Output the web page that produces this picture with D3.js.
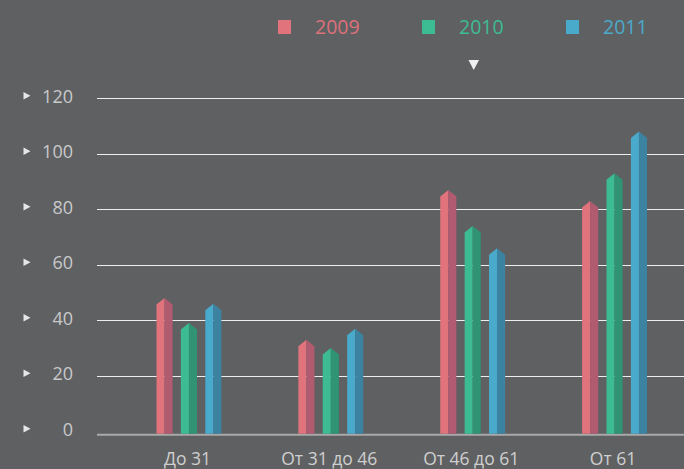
<!DOCTYPE html>
<html>
<head>
<meta charset="utf-8">
<script src="https://cdn.jsdelivr.net/npm/d3@7"></script>
<style>
  html, body { margin: 0; padding: 0; background: #5f6062; }
  svg { display: block; }
</style>
</head>
<body>
<svg id="chart" width="684" height="469"></svg>
<script>
// Age groups along the x axis
const categories = ["До 31", "От 31 до 46", "От 46 до 61", "От 61"];
// Years shown as series
const years = ["2009", "2010", "2011"];
const values2009 = [48, 33, 87, 83];
const values2010 = [39, 30, 74, 93];
const values2011 = [46, 37, 66, 108];
const yTicks = [0, 20, 40, 60, 80, 100, 120];

const seriesValues = [values2009, values2010, values2011];
const light = ["#e0737b", "#3dbc94", "#4aaacb"];
const dark  = ["#b05b70", "#2f9374", "#3c83a2"];
const legendText = ["#dc717a", "#3dbc94", "#4aaacb"];

const svg = d3.select("#chart");
const W = 684, H = 469;
const left = 97;

const y = d3.scaleLinear().domain([0, 120]).range([431.3, 98.3]);
const x = d3.scaleBand().domain(categories).range([118, 685.5]).paddingInner(0).paddingOuter(0);
const xs = d3.scaleBand().domain(years).range([-36.6, 36.6]).paddingInner(0.34).paddingOuter(0.17);

const font = "'Open Sans', 'Noto Sans', sans-serif";

// Horizontal grid lines
svg.append("g").selectAll("line")
  .data(yTicks.filter(d => d > 0))
  .join("line")
  .attr("x1", left).attr("x2", W)
  .attr("y1", d => Math.round(y(d)) + 0.5).attr("y2", d => Math.round(y(d)) + 0.5)
  .attr("stroke", "#eeeeee").attr("stroke-width", 1);

// Baseline under the bars
const baseY = y(0) + 3.5;
svg.append("line")
  .attr("x1", left).attr("x2", W)
  .attr("y1", baseY).attr("y2", baseY)
  .attr("stroke", "#a9a9aa").attr("stroke-width", 2);

// Y tick labels with small pointer marks
const yl = svg.append("g");
yl.selectAll("text")
  .data(yTicks)
  .join("text")
  .attr("x", 73).attr("y", d => y(d) - 2.5)
  .attr("text-anchor", "end")
  .attr("dominant-baseline", "central")
  .attr("font-family", font).attr("font-size", 18)
  .attr("fill", "#c9c9ca")
  .text(d => d);
yl.selectAll("path")
  .data(yTicks)
  .join("path")
  .attr("d", d => { const c = y(d) - 2.5; return `M23.5,${c - 3.7}L30.5,${c}L23.5,${c + 3.7}Z`; })
  .attr("fill", "#e6e6e6");

// Prism-style bars: lit left face, shaded right face, pointed cap
const cap = 6.5;
const groups = svg.append("g").selectAll("g")
  .data(categories)
  .join("g")
  .attr("transform", c => `translate(${x(c) + x.bandwidth() / 2},0)`);

years.forEach((yr, si) => {
  const bw = xs.bandwidth();
  groups.each(function(c, ci) {
    const v = seriesValues[si][ci];
    const x0 = xs(yr), xm = x0 + bw / 2, x1 = x0 + bw;
    const top = y(v), sh = top + cap;
    const g = d3.select(this);
    g.append("path")
      .attr("d", `M${x0},${baseY - 1}L${x0},${sh}L${xm},${top}L${xm},${baseY - 1}Z`)
      .attr("fill", light[si]);
    g.append("path")
      .attr("d", `M${xm},${baseY - 1}L${xm},${top}L${x1},${sh}L${x1},${baseY - 1}Z`)
      .attr("fill", dark[si]);
  });
});

// Category labels
svg.append("g").selectAll("text")
  .data(categories)
  .join("text")
  .attr("x", c => x(c) + x.bandwidth() / 2 - 1.5)
  .attr("y", 464.5)
  .attr("text-anchor", "middle")
  .attr("font-family", font).attr("font-size", 17.5)
  .attr("fill", "#cfcfd0")
  .text(c => c);

// Legend
const legendX = d3.scalePoint().domain(years).range([278, 566]);
const lg = svg.append("g").selectAll("g")
  .data(years)
  .join("g")
  .attr("transform", d => `translate(${legendX(d)},0)`);
lg.append("rect")
  .attr("x", 0).attr("y", 20).attr("width", 13).attr("height", 14)
  .attr("fill", (d, i) => light[i]);
lg.append("text")
  .attr("x", 37).attr("y", 33.5)
  .attr("font-family", font).attr("font-size", 19.5)
  .attr("fill", (d, i) => legendText[i])
  .text(d => d);

// Pager marker under the legend
svg.append("path")
  .attr("d", "M468.5,60L479,60L473.7,70Z")
  .attr("fill", "#f0f0f0");
</script>
</body>
</html>
